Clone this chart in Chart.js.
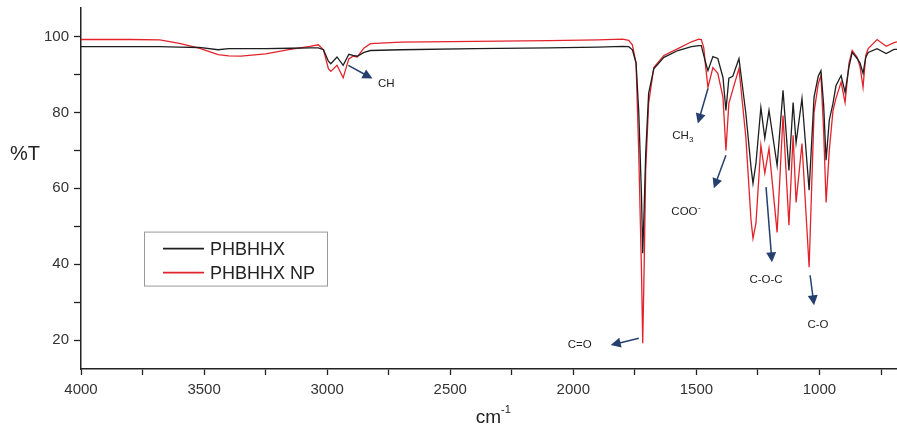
<!DOCTYPE html>
<html>
<head>
<meta charset="utf-8">
<script src="https://cdn.jsdelivr.net/npm/chart.js@4.4.0/dist/chart.umd.min.js"></script>
<style>
  html, body { margin: 0; padding: 0; background: #fff; }
</style>
</head>
<body>
<canvas id="ftir" width="897" height="430"></canvas>
<script>
// wavenumber (cm-1)
var wavenumbers = [4000, 3800, 3680, 3600, 3520, 3443, 3400, 3350, 3250, 3150, 3070, 3036, 3015, 2995, 2985, 2960, 2935, 2912, 2895, 2878, 2850, 2824, 2700, 2400, 2100, 1900, 1800, 1775, 1760, 1745, 1734, 1723, 1718, 1712, 1706, 1694, 1673, 1632, 1575, 1520, 1490, 1480, 1470, 1462, 1453, 1433, 1413, 1392, 1380, 1368, 1352, 1327, 1299, 1278, 1270, 1258, 1238, 1222, 1205, 1172, 1148, 1124, 1107, 1095, 1071, 1042, 1022, 1005, 994, 983, 973, 960, 945, 933, 912, 896, 880, 867, 847, 835, 823, 812, 802, 766, 729, 697, 685];
// %T
var phbhhx = [97.3, 97.3, 97.3, 97.2, 97.1, 96.5, 96.8, 96.8, 96.8, 96.9, 97.0, 97.0, 96.5, 93.5, 92.8, 94.6, 92.4, 95.3, 95.0, 94.8, 95.8, 96.3, 96.5, 96.8, 97.0, 97.2, 97.4, 97.3, 96.5, 93.0, 80.0, 58.0, 42.9, 55.0, 69.0, 85.0, 91.5, 94.5, 96.3, 97.3, 97.6, 97.6, 95.0, 93.0, 91.0, 94.7, 94.2, 89.2, 80.5, 89.0, 89.5, 94.2, 79.7, 65.5, 61.3, 66.6, 81.3, 73.2, 80.5, 66.0, 85.8, 64.7, 82.6, 72.0, 83.7, 59.5, 84.0, 89.5, 91.0, 82.0, 67.4, 78.0, 82.4, 87.0, 89.7, 85.3, 92.0, 95.8, 94.2, 93.0, 90.3, 94.5, 95.8, 96.8, 95.5, 96.6, 96.6];
var phbhhxNp = [99.2, 99.2, 99.1, 98.2, 96.9, 95.2, 94.9, 94.8, 95.4, 96.6, 97.4, 97.8, 96.5, 91.5, 90.8, 92.4, 89.1, 94.1, 94.8, 94.6, 97.0, 98.1, 98.5, 98.7, 98.9, 99.1, 99.3, 99.0, 97.8, 92.9, 69.0, 38.0, 19.2, 40.0, 64.7, 82.4, 91.8, 95.0, 96.8, 98.6, 99.3, 99.2, 97.0, 91.8, 86.6, 91.8, 90.3, 84.0, 70.0, 82.4, 86.0, 91.6, 73.4, 51.6, 46.8, 50.8, 71.3, 64.0, 70.5, 48.4, 79.2, 50.3, 74.0, 56.3, 71.8, 39.2, 80.0, 87.5, 89.7, 75.0, 56.3, 70.0, 80.5, 83.7, 88.0, 82.6, 93.0, 96.3, 94.5, 92.0, 86.6, 95.0, 96.8, 99.2, 97.4, 98.4, 98.6];

var xTicks = [4000, 3750, 3500, 3250, 3000, 2750, 2500, 2250, 2000, 1750, 1500, 1250, 1000, 750];
var yTicks = [20, 30, 40, 50, 60, 70, 80, 90, 100];

// band labels: text, arrow tail, arrow head, text centre (all in cm-1 / %T)
var bandNames = ['CH', 'CH', 'COO', 'C=O', 'C-O-C', 'C-O'];
var bandSub = ['', '3', '', '', '', ''];
var bandSup = ['', '', '-', '', '', ''];
var arrowFrom = [[2914, 92.4], [1453, 86.3], [1380, 68.7], [1734, 20.5], [1217, 60.3], [1038, 37.1]];
var arrowTo = [[2816, 88.9], [1494, 77.1], [1429, 60.0], [1848, 18.7], [1193, 40.5], [1022, 29.2]];
var bandText = [[2760, 87.6], [1555, 73.7], [1543, 53.7], [1974, 18.7], [1217, 35.8], [1006, 24.0]];

function points(vals) {
  return wavenumbers.map(function (w, i) { return { x: w, y: vals[i] }; });
}

var FONT = "'Liberation Sans', Arial, sans-serif";

var extras = {
  id: 'extras',
  afterDatasetsDraw: function (chart) {
    var ctx = chart.ctx;
    var xs = chart.scales.x, ys = chart.scales.y;
    var area = chart.chartArea;
    ctx.save();

    // arrows + band names
    for (var i = 0; i < bandNames.length; i++) {
      var x1 = xs.getPixelForValue(arrowFrom[i][0]), y1 = ys.getPixelForValue(arrowFrom[i][1]);
      var x2 = xs.getPixelForValue(arrowTo[i][0]), y2 = ys.getPixelForValue(arrowTo[i][1]);
      var ang = Math.atan2(y2 - y1, x2 - x1);
      var hl = 10, hw = 5;
      ctx.strokeStyle = '#25406f';
      ctx.fillStyle = '#25406f';
      ctx.lineWidth = 1.5;
      ctx.beginPath();
      ctx.moveTo(x1, y1);
      ctx.lineTo(x2 - Math.cos(ang) * hl * 0.8, y2 - Math.sin(ang) * hl * 0.8);
      ctx.stroke();
      ctx.beginPath();
      ctx.moveTo(x2, y2);
      ctx.lineTo(x2 - Math.cos(ang) * hl - Math.sin(ang) * hw, y2 - Math.sin(ang) * hl + Math.cos(ang) * hw);
      ctx.lineTo(x2 - Math.cos(ang) * hl + Math.sin(ang) * hw, y2 - Math.sin(ang) * hl - Math.cos(ang) * hw);
      ctx.closePath();
      ctx.fill();

      var tx = xs.getPixelForValue(bandText[i][0]), ty = ys.getPixelForValue(bandText[i][1]);
      ctx.font = '11.5px ' + FONT;
      var w = ctx.measureText(bandNames[i]).width;
      ctx.font = '8px ' + FONT;
      var w2 = ctx.measureText(bandSub[i] + bandSup[i]).width;
      var left = tx - (w + w2) / 2;
      ctx.fillStyle = '#222';
      ctx.textBaseline = 'middle';
      ctx.textAlign = 'left';
      ctx.font = '11.5px ' + FONT;
      ctx.fillText(bandNames[i], left, ty);
      ctx.font = '8px ' + FONT;
      if (bandSub[i]) ctx.fillText(bandSub[i], left + w, ty + 3);
      if (bandSup[i]) ctx.fillText(bandSup[i], left + w + 0.5, ty - 4);
    }

    // legend box
    var lx = area.left + 63, ly = ys.getPixelForValue(48.6);
    ctx.strokeStyle = '#999';
    ctx.lineWidth = 1;
    ctx.strokeRect(lx + 0.5, ly + 0.5, 183, 54);
    chart.data.datasets.forEach(function (ds, k) {
      var yy = ly + 17 + k * 24;
      ctx.strokeStyle = ds.borderColor;
      ctx.lineWidth = 1.6;
      ctx.beginPath();
      ctx.moveTo(lx + 19, yy);
      ctx.lineTo(lx + 60, yy);
      ctx.stroke();
      ctx.fillStyle = '#222';
      ctx.font = '18px ' + FONT;
      ctx.textAlign = 'left';
      ctx.textBaseline = 'middle';
      ctx.fillText(ds.label, lx + 66, yy + 1);
    });

    // axis titles
    ctx.fillStyle = '#222';
    ctx.font = '20px ' + FONT;
    ctx.textAlign = 'left';
    ctx.textBaseline = 'middle';
    ctx.fillText('%T', 10, ys.getPixelForValue(68.8));
    var cx = (area.left + area.right) / 2;
    ctx.font = '19px ' + FONT;
    ctx.textAlign = 'right';
    ctx.fillText('cm', cx + 12, 418);
    ctx.font = '11px ' + FONT;
    ctx.textAlign = 'left';
    ctx.fillText('-1', cx + 12, 410);
    ctx.restore();
  }
};

new Chart(document.getElementById('ftir'), {
  type: 'line',
  data: {
    datasets: [
      {
        label: 'PHBHHX',
        data: points(phbhhx),
        borderColor: '#1e1e1e',
        borderWidth: 1.3,
        pointRadius: 0,
        tension: 0
      },
      {
        label: 'PHBHHX NP',
        data: points(phbhhxNp),
        borderColor: '#e2232c',
        borderWidth: 1.3,
        pointRadius: 0,
        tension: 0
      }
    ]
  },
  options: {
    responsive: false,
    animation: false,
    layout: { padding: { top: 8, right: 0, left: 0, bottom: 0 } },
    plugins: { legend: { display: false }, tooltip: { enabled: false } },
    scales: {
      x: {
        type: 'linear',
        reverse: true,
        min: 685,
        max: 4000,
        afterBuildTicks: function (s) { s.ticks = xTicks.map(function (v) { return { value: v }; }); },
        afterFit: function (s) { s.height = 61; s.paddingLeft = 0; s.paddingRight = 0; },
        ticks: {
          autoSkip: false,
          maxRotation: 0,
          padding: 6,
          color: '#333',
          font: { family: FONT, size: 15 },
          callback: function (v) { return v % 500 === 0 ? String(v) : ''; }
        },
        grid: { drawOnChartArea: false, tickLength: 6, tickColor: '#222', tickWidth: 1.3 },
        border: { color: '#222', width: 1.5 }
      },
      y: {
        min: 12.4,
        max: 107.5,
        afterBuildTicks: function (s) { s.ticks = yTicks.map(function (v) { return { value: v }; }); },
        afterFit: function (s) { s.width = 81; s.paddingTop = 0; s.paddingBottom = 0; },
        ticks: {
          padding: 5,
          color: '#333',
          font: { family: FONT, size: 15 },
          callback: function (v) { return v % 20 === 0 ? String(v) : ''; }
        },
        grid: { drawOnChartArea: false, tickLength: 7, tickColor: '#222', tickWidth: 1.3 },
        border: { color: '#222', width: 1.5 }
      }
    }
  },
  plugins: [extras]
});
</script>
</body>
</html>
